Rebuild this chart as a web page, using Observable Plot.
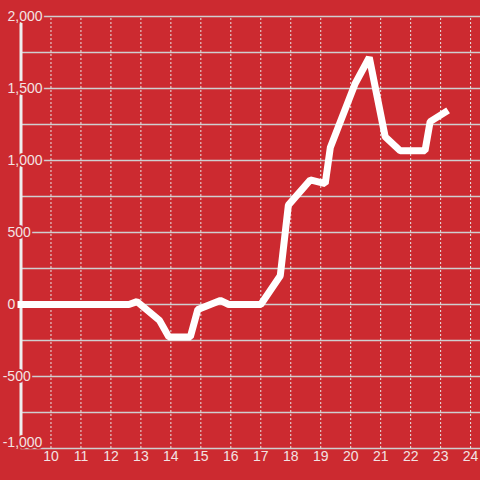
<!DOCTYPE html>
<html>
<head>
<meta charset="utf-8">
<script src="https://cdn.jsdelivr.net/npm/d3@7"></script>
<script src="https://cdn.jsdelivr.net/npm/@observablehq/plot@0.6"></script>
<style>
  html, body { margin: 0; padding: 0; background: #cc2a30; }
  #chart { width: 480px; height: 480px; }
</style>
</head>
<body>
<div id="chart"></div>
<script>
// Data
const xValues = [9, 12.6, 12.87, 13.62, 13.93, 14.65, 14.9, 15.65, 15.93, 17.0, 17.65, 17.92, 18.65, 19.15, 19.32, 20.15, 20.62, 21.15, 21.65, 22.48, 22.65, 23.15];
const yValues = [0, 0, 20, -110, -225, -225, -35, 28, 0, 0, 200, 690, 865, 840, 1090, 1535, 1715, 1165, 1068, 1068, 1270, 1335];
const xTicks = [10, 11, 12, 13, 14, 15, 16, 17, 18, 19, 20, 21, 22, 23, 24];
const yGrid = [-1000, -750, -500, -250, 0, 250, 500, 750, 1000, 1250, 1500, 1750, 2000];
const yLabelsPos = [0, 500, 1000, 1500, 2000];
const yLabelsNeg = [-500];
const yLabelsBottom = [-1000];

const bg = "#cc2a30";
const labelColor = "#f3e3e3";
const font = "'Liberation Sans', Arial, sans-serif";
const data = xValues.map((x, i) => ({x, y: yValues[i]}));
const fmt = v => (v < 0 ? "-" : "") + d3.format(",")(Math.abs(v));

const xMax = 24.33;
const chart = Plot.plot({
  width: 480,
  height: 480,
  marginLeft: 20.5,
  marginRight: 0,
  marginTop: 16,
  marginBottom: 32,
  x: {domain: [9, xMax], axis: null},
  y: {domain: [-1000, 2000], axis: null},
  style: {background: bg, fontFamily: font, fontSize: "14px"},
  marks: [
    Plot.ruleY(yGrid, {y: d => d, x1: 9, x2: xMax, stroke: "#cfcfcf", strokeWidth: 1.3}),
    Plot.ruleX(xTicks, {x: d => d, y1: -1000, y2: 2000, stroke: "#e6e6e6", strokeWidth: 1, strokeDasharray: "2,2"}),
    Plot.ruleX([9], {x: d => d, y1: -1000, y2: 2000, stroke: "#eeeeee", strokeWidth: 3}),
    Plot.text(yLabelsPos, {y: d => d, text: fmt, frameAnchor: "left", textAnchor: "start", dx: -13.5, fill: labelColor, stroke: bg, strokeWidth: 4, paintOrder: "stroke", fontSize: 14}),
    Plot.text(yLabelsNeg, {y: d => d, text: fmt, frameAnchor: "left", textAnchor: "start", dx: -18.3, fill: labelColor, stroke: bg, strokeWidth: 4, paintOrder: "stroke", fontSize: 14}),
    Plot.text(yLabelsBottom, {y: d => d, text: fmt, frameAnchor: "left", textAnchor: "start", dx: -18.3, dy: -6, fill: labelColor, stroke: bg, strokeWidth: 4, paintOrder: "stroke", fontSize: 14}),
    Plot.text(xTicks, {x: d => d, text: d => String(d), frameAnchor: "bottom", dy: 12.5, fill: labelColor, fontSize: 14}),
    Plot.line(data, {x: "x", y: "y", stroke: "#ffffff", strokeWidth: 7, strokeLinecap: "square", strokeLinejoin: "bevel"})
  ]
});
document.getElementById("chart").appendChild(chart);
</script>
</body>
</html>
